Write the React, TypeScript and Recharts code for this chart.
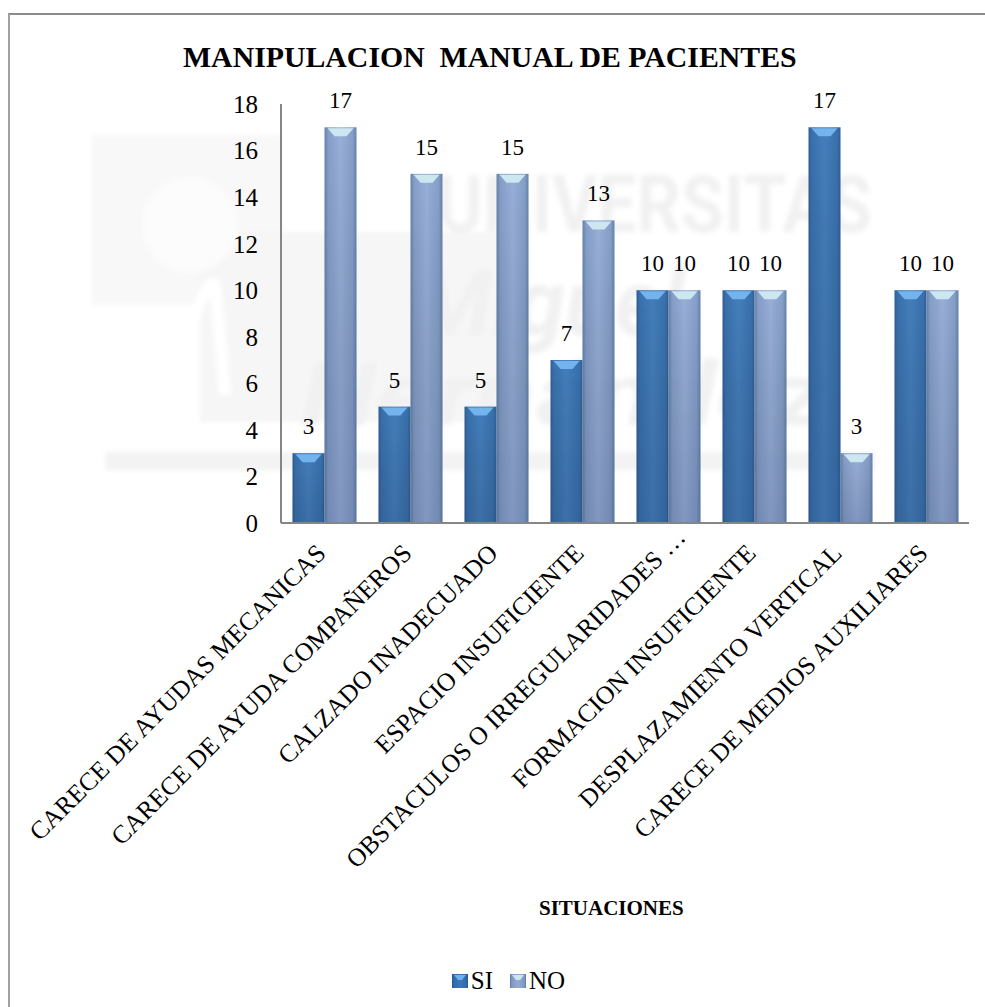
import { Bar, BarChart, LabelList, Legend, XAxis, YAxis } from "recharts";

const SERIF = '"Liberation Serif", "Times New Roman", serif';

const categories = [
  "CARECE DE AYUDAS MECANICAS",
  "CARECE DE AYUDA COMPAÑEROS",
  "CALZADO INADECUADO",
  "ESPACIO INSUFICIENTE",
  "OBSTACULOS O IRREGULARIDADES …",
  "FORMACION INSUFICIENTE",
  "DESPLAZAMIENTO VERTICAL",
  "CARECE DE MEDIOS AUXILIARES",
];
const si = [3, 5, 5, 7, 10, 10, 17, 10];
const no = [17, 15, 15, 13, 10, 10, 3, 10];
const yTicks = [0, 2, 4, 6, 8, 10, 12, 14, 16, 18];

const data = categories.map((name, i) => ({ name, SI: si[i], NO: no[i] }));

const TiltedTick = ({ x, y, payload }: any) => {
  // the truncated label runs a bit further past the axis than the others
  const along = String(payload.value).endsWith("…") ? 8 : -14.5;
  return (
    <text
      x={x}
      y={y}
      transform={`rotate(-45 ${x} ${y}) translate(${along} 19)`}
      textAnchor="end"
      fontFamily={SERIF}
      fontSize={25.5}
      fill="#000"
    >
      {payload.value}
    </text>
  );
};

const BevelBar = ({ x, y, width, height, dataKey }: any) => {
  const top = dataKey === "SI" ? "#6db0ee" : "#cbe6f0";
  const b = Math.min(9, height / 2);
  return (
    <g opacity={0.95}>
      <rect x={x} y={y} width={width} height={height} fill={`url(#side${dataKey})`} />
      <rect x={x} y={y} width={width} height={height} fill="url(#shade)" />
      <path
        d={`M${x + 3} ${y + 1} L${x + width - 3} ${y + 1} L${x + width - 10} ${y + b} L${x + 10} ${y + b} Z`}
        fill={top}
      />
    </g>
  );
};

const LegendRow = ({ payload }: any) => (
  <div
    style={{
      display: "flex",
      justifyContent: "center",
      gap: 17,
      fontFamily: SERIF,
      fontSize: 25,
      color: "#000",
      lineHeight: "24px",
    }}
  >
    {payload.map((p: any) => (
      <span key={p.value} style={{ display: "flex", alignItems: "center", gap: 3 }}>
        <svg width={16} height={14}>
          <rect width={16} height={14} fill={`url(#side${p.value})`} />
          <path d="M2 1 L14 1 L10 6 L6 6 Z" fill={p.value === "SI" ? "#6db0ee" : "#cbe6f0"} />
        </svg>
        {p.value}
      </span>
    ))}
  </div>
);

// faded university logo sitting behind the plot
const Watermark = () => (
  <svg width={985} height={1007} style={{ position: "absolute", left: 0, top: 0 }}>
    <defs>
      <filter id="soft">
        <feGaussianBlur stdDeviation="2.5" />
      </filter>
    </defs>
    <g filter="url(#soft)" fill="#f1f1f1">
      <rect x={92} y={135} width={190} height={170} fill="#f8f8f8" />
      <rect x={200} y={232} width={300} height={190} fill="#f6f6f6" />
      <circle cx={190} cy={225} r={48} fill="#fcfcfc" />
      <path d="M165 410 Q205 270 215 285 Q225 390 225 395" stroke="#fff" strokeWidth={12} fill="none" />
      <text
        x={437}
        y={232}
        fontFamily="Roboto, sans-serif"
        fontWeight={700}
        fontSize={80}
        textLength={435}
        lengthAdjust="spacingAndGlyphs"
      >
        UNIVERSITAS
      </text>
      <text
        x={415}
        y={335}
        fontFamily="Roboto, sans-serif"
        fontStyle="italic"
        fontWeight={700}
        fontSize={92}
        textLength={270}
        lengthAdjust="spacingAndGlyphs"
      >
        Miguel
      </text>
      <text
        x={300}
        y={425}
        fontFamily="Roboto, sans-serif"
        fontStyle="italic"
        fontWeight={700}
        fontSize={88}
        textLength={530}
        lengthAdjust="spacingAndGlyphs"
      >
        Hernández
      </text>
      <rect x={105} y={452} width={770} height={18} fill="#f3f3f3" />
    </g>
  </svg>
);

export default function App() {
  return (
    <div style={{ position: "absolute", left: 0, top: 0, width: 985, height: 1007, background: "#fff" }}>
      <Watermark />
      <div
        style={{
          position: "absolute",
          left: 8,
          top: 13,
          width: 977,
          height: 994,
          boxSizing: "border-box",
          borderLeft: "2px solid #a0a0a0",
          borderTop: "2px solid #8c8c8c",
        }}
      />
      <div
        style={{
          position: "absolute",
          left: 183,
          top: 40,
          fontFamily: SERIF,
          fontWeight: 700,
          fontSize: 29.8,
          whiteSpace: "pre",
          color: "#000",
        }}
      >
        MANIPULACION  MANUAL DE PACIENTES
      </div>
      <div
        style={{
          position: "absolute",
          left: 539,
          top: 896,
          fontFamily: SERIF,
          fontWeight: 700,
          fontSize: 21,
          color: "#000",
        }}
      >
        SITUACIONES
      </div>
      <BarChart
        width={985}
        height={1007}
        data={data}
        margin={{ top: 104, right: 16, bottom: 459, left: 241 }}
        barCategoryGap={11.5}
        barGap={0}
        style={{ position: "absolute", left: 0, top: 0 }}
      >
        <defs>
          <linearGradient id="sideSI" x1="0" y1="0" x2="1" y2="0">
            <stop offset="0" stopColor="#24548c" />
            <stop offset="0.1" stopColor="#2f69a8" />
            <stop offset="0.5" stopColor="#3a78b8" />
            <stop offset="0.9" stopColor="#2f69a8" />
            <stop offset="1" stopColor="#24548c" />
          </linearGradient>
          <linearGradient id="sideNO" x1="0" y1="0" x2="1" y2="0">
            <stop offset="0" stopColor="#5d7ba3" />
            <stop offset="0.12" stopColor="#7f9ac6" />
            <stop offset="0.5" stopColor="#93abd6" />
            <stop offset="0.88" stopColor="#7f9ac6" />
            <stop offset="1" stopColor="#5d7ba3" />
          </linearGradient>
          <linearGradient id="shade" x1="0" y1="0" x2="0" y2="1">
            <stop offset="0" stopColor="#000" stopOpacity={0} />
            <stop offset="1" stopColor="#10204a" stopOpacity={0.18} />
          </linearGradient>
        </defs>
        <XAxis
          dataKey="name"
          axisLine={{ stroke: "#868686", strokeWidth: 2 }}
          tickLine={false}
          interval={0}
          height={1}
          tick={<TiltedTick />}
        />
        <YAxis
          domain={[0, 18]}
          ticks={yTicks}
          width={40}
          axisLine={{ stroke: "#868686", strokeWidth: 2 }}
          tickLine={false}
          tickMargin={17}
          tick={{ fontFamily: SERIF, fontSize: 25, fill: "#000" }}
        />
        <Legend
          verticalAlign="bottom"
          itemSorter={null}
          content={<LegendRow />}
          wrapperStyle={{ left: 0, width: 1017, bottom: 14 }}
        />
        <Bar dataKey="SI" isAnimationActive={false} shape={<BevelBar dataKey="SI" />}>
          <LabelList dataKey="SI" position="top" offset={19} fontFamily={SERIF} fontSize={23} fill="#000" />
        </Bar>
        <Bar dataKey="NO" isAnimationActive={false} shape={<BevelBar dataKey="NO" />}>
          <LabelList dataKey="NO" position="top" offset={19} fontFamily={SERIF} fontSize={23} fill="#000" />
        </Bar>
      </BarChart>
    </div>
  );
}
